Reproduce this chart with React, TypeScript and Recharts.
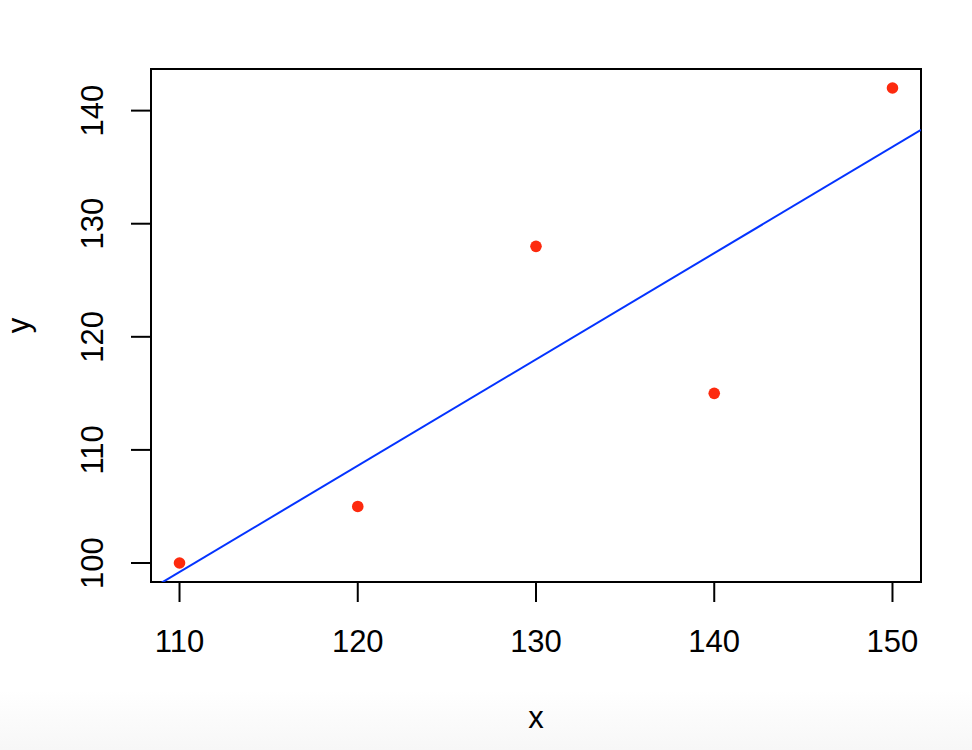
import { ScatterChart, Scatter, XAxis, YAxis, ReferenceLine, ReferenceArea, Label } from 'recharts';

const xValues = [110, 120, 130, 140, 150];
const yValues = [100, 105, 128, 115, 142];
const xTicks = [110, 120, 130, 140, 150];
const yTicks = [100, 110, 120, 130, 140];
// fitted line endpoints, clipped to the plot box
const fitX = [108.4, 151.6];
const fitY = [97.7, 138.3];
const xDomain = [108.4, 151.6];
const yDomain = [98.32, 143.68];

const points = xValues.map((x, i) => ({ x, y: yValues[i] }));

const FONT = '"Liberation Sans", Arial, Helvetica, sans-serif';

const XTick = ({ x, y, payload }: any) => (
  <text x={x} y={y + 50} textAnchor="middle" fontFamily={FONT} fontSize={31} fill="#000">
    {payload.value}
  </text>
);

const YTick = ({ x, y, payload }: any) => {
  const bx = x - 28;
  return (
    <text
      x={bx}
      y={y}
      transform={`rotate(-90 ${bx} ${y})`}
      textAnchor="middle"
      fontFamily={FONT}
      fontSize={31}
      fill="#000"
    >
      {payload.value}
    </text>
  );
};

export default function App() {
  return (
    <div
      style={{
        position: 'absolute',
        left: 0,
        top: 0,
        width: 972,
        height: 750,
        background: 'linear-gradient(to bottom, #ffffff 0px, #ffffff 690px, #f7f7f7 750px)',
      }}
    >
      <ScatterChart width={972} height={750} margin={{ top: 69, right: 51, left: 91, bottom: 88 }}>
        <XAxis
          type="number"
          dataKey="x"
          domain={xDomain}
          ticks={xTicks}
          allowDataOverflow
          axisLine={false}
          tickLine={{ stroke: '#000', strokeWidth: 2 }}
          tickSize={20}
          tickMargin={0}
          tick={<XTick />}
          height={80}
        >
          <Label
            content={({ viewBox }: any) => (
              <text
                x={viewBox.x + viewBox.width / 2}
                y={viewBox.y + 146}
                textAnchor="middle"
                fontFamily={FONT}
                fontSize={31}
                fill="#000"
              >
                x
              </text>
            )}
          />
        </XAxis>
        <YAxis
          type="number"
          dataKey="y"
          domain={yDomain}
          ticks={yTicks}
          allowDataOverflow
          axisLine={false}
          tickLine={{ stroke: '#000', strokeWidth: 2 }}
          tickSize={20}
          tickMargin={0}
          tick={<YTick />}
          width={60}
        >
          <Label
            content={({ viewBox }: any) => {
              const cx = 29;
              const cy = viewBox.y + viewBox.height / 2;
              return (
                <text
                  x={cx}
                  y={cy}
                  transform={`rotate(-90 ${cx} ${cy})`}
                  textAnchor="middle"
                  fontFamily={FONT}
                  fontSize={31}
                  fill="#000"
                >
                  y
                </text>
              );
            }}
          />
        </YAxis>
        <ReferenceArea
          x1={xDomain[0]}
          x2={xDomain[1]}
          y1={yDomain[0]}
          y2={yDomain[1]}
          fill="none"
          fillOpacity={0}
          stroke="#000"
          strokeWidth={2}
          ifOverflow="visible"
        />
        <ReferenceLine
          segment={[
            { x: fitX[0], y: fitY[0] },
            { x: fitX[1], y: fitY[1] },
          ]}
          stroke="#0433ff"
          strokeWidth={2}
          ifOverflow="hidden"
        />
        <Scatter
          data={points}
          fill="#fd2a0e"
          isAnimationActive={false}
          shape={(p: any) => <circle cx={p.cx} cy={p.cy} r={5.8} fill="#fd2a0e" />}
        />
      </ScatterChart>
    </div>
  );
}
